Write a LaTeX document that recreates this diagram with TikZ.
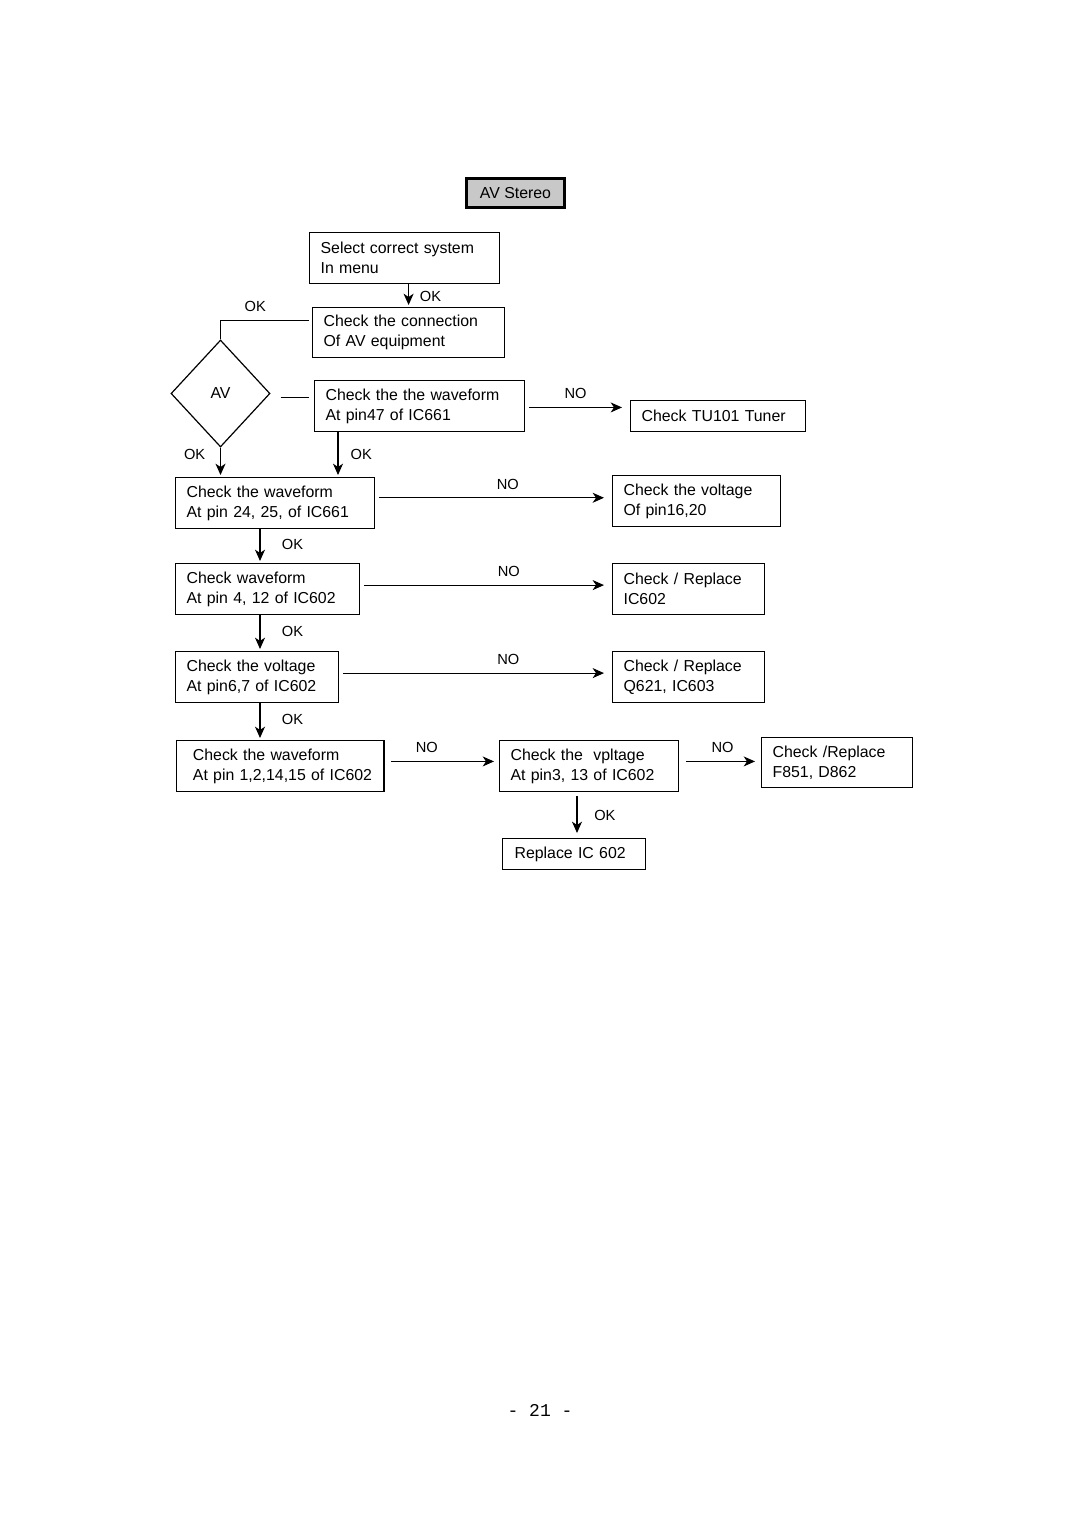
\documentclass[tikz,border=0pt]{standalone}
\usepackage{fontspec}
\setmainfont{Liberation Sans}
\newfontfamily\pagefont{Liberation Mono}
\usetikzlibrary{shapes.geometric, arrows.meta}
\definecolor{headgray}{RGB}{200, 200, 200}

\begin{document}
\begin{tikzpicture}[
    x=0.75pt, y=-0.75pt,
    font=\fontsize{11.9}{15}\selectfont,
    box/.style={draw, line width=0.9pt, anchor=north west, align=left, inner xsep=8.25pt, inner ysep=0pt, minimum height=38.25pt},
    slim/.style={box, minimum height=23.25pt},
    check/.style={diamond, draw, line width=0.9pt, minimum width=74.25pt, minimum height=80.25pt, inner sep=0pt},
    link/.style={line width=0.9pt},
    arrow/.style={-{Stealth[length=8.5pt, width=7.5pt, inset=2.5pt]}, line width=0.9pt, shorten >=1.5pt},
    noarrow/.style={arrow, shorten <=3pt, shorten >=6pt},
    tag/.style={font=\fontsize{11}{13}\selectfont, inner sep=1pt}
]
    \useasboundingbox (0, 0) rectangle (1080, 1528);

    % Title
    \node[draw, line width=2.25pt, fill=headgray, minimum width=73.5pt, minimum height=21.75pt, inner sep=0pt] (title) at (515.5, 193) {AV Stereo};

    % Top steps
    \node[box, text width=126pt] (select) at (309, 232) {Select correct system\\In menu};
    \node[box, text width=127.5pt, minimum height=37.5pt] (conn) at (312, 307) {Check the connection\\Of AV equipment};
    \node[check] (av) at (220.5, 393.5) {AV};
    \node[box, text width=141pt] (wave47) at (314, 380) {Check the the waveform\\At pin47 of IC661};
    \node[slim, text width=114.75pt] (tuner) at (630, 400) {Check TU101 Tuner};

    % Left column
    \node[box, text width=132.75pt] (pin24) at (175, 477) {Check the waveform\\At pin 24, 25, of IC661};
    \node[box, text width=121.5pt] (pin4) at (175, 563) {Check waveform\\At pin 4, 12 of IC602};
    \node[box, text width=105.75pt] (pin67) at (175, 651) {Check the voltage\\At pin6,7 of IC602};
    \node[box, text width=139pt] (pin1) at (176, 740) {\mbox{\hspace*{4pt}Check the waveform}\\\mbox{\hspace*{4pt}At pin 1,2,14,15 of IC602}};

    % Right column
    \node[box, text width=109.5pt] (volt16) at (612, 475) {Check the voltage\\Of pin16,20};
    \node[box, text width=97.5pt] (ic602) at (612, 563) {Check / Replace\\IC602};
    \node[box, text width=97.5pt] (q621) at (612, 651) {Check / Replace\\Q621, IC603};
    \node[box, text width=117.75pt] (vpl) at (499, 740) {Check the\ \ vpltage\\At pin3, 13 of IC602};
    \node[box, text width=96.75pt, minimum height=37.5pt] (fuse) at (761, 737) {Check /Replace\\F851, D862};
    \node[slim, text width=89.25pt, inner xsep=9pt] (repl) at (502, 838) {Replace IC 602};

    % Page number
    \node[font=\pagefont\fontsize{13.5}{15}\selectfont] (page) at (540, 1410) {- 21 -};

    % Arrows
    \draw[arrow] (conn.north |- select.south) -- node[tag, right=7pt, pos=0.55] {OK} (conn.north);
    \draw[link, shorten >=2.5pt] (av.north) |- node[tag, above=5pt, pos=0.69] {OK} ([yshift=9pt]conn.west);
    \draw[link, shorten <=7.5pt, shorten >=3.75pt] ([yshift=-3pt]av.east) -- ([yshift=-3pt]av.east -| wave47.west);
    \draw[noarrow] ([yshift=-1pt]wave47.east) -- node[tag, above=5pt, pos=0.48] {NO} ([yshift=-1pt]wave47.east -| tuner.west);
    \draw[arrow] (av.south) -- node[tag, left=10pt, pos=0.23] {OK} (av.south |- pin24.north);
    \draw[arrow] ([xshift=18pt]wave47.south west) -- node[tag, right=8pt] {OK} ([xshift=18pt]wave47.south west |- pin24.north);

    \draw[arrow] ([xshift=63.75pt]pin24.south west) -- node[tag, right=15pt, pos=0.45] {OK} ([xshift=63.75pt]pin24.south west |- pin4.north);
    \draw[arrow] ([xshift=63.75pt]pin4.south west) -- node[tag, right=15pt, pos=0.45] {OK} ([xshift=63.75pt]pin4.south west |- pin67.north);
    \draw[arrow] ([xshift=63.75pt]pin67.south west) -- node[tag, right=15pt, pos=0.45] {OK} ([xshift=63.75pt]pin67.south west |- pin1.north);

    \draw[noarrow] ([yshift=4pt]pin24.east) -- node[tag, above=5pt, pos=0.56] {NO} ([yshift=4pt]pin24.east -| volt16.west);
    \draw[noarrow] ([yshift=3pt]pin4.east) -- node[tag, above=5pt, pos=0.59] {NO} ([yshift=3pt]pin4.east -| ic602.west);
    \draw[noarrow] ([yshift=3pt]pin67.east) -- node[tag, above=5pt, pos=0.62] {NO} ([yshift=3pt]pin67.east -| q621.west);
    \draw[noarrow, shorten <=5pt, shorten >=3.75pt] ([yshift=3.5pt]pin1.east) -- node[tag, above=5pt, pos=0.37] {NO} ([yshift=3.5pt]pin1.east -| vpl.west);
    \draw[noarrow, shorten <=5pt, shorten >=4.5pt] ([yshift=3.5pt]vpl.east) -- node[tag, above=5pt, pos=0.53] {NO} ([yshift=3.5pt]vpl.east -| fuse.west);
    \draw[arrow, shorten <=3pt, shorten >=3.75pt] ([xshift=58.5pt]vpl.south west) -- node[tag, right=11.5pt] {OK} ([xshift=58.5pt]vpl.south west |- repl.north);
\end{tikzpicture}
\end{document}
